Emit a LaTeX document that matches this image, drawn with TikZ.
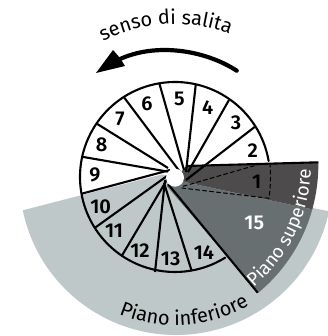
\documentclass[tikz,border=0pt]{standalone}
\usepackage{fontspec}
\setmainfont{Fira Sans}
\newfontfamily\numf{Fira Sans SemiBold}
\usetikzlibrary{decorations.text,calc}
\definecolor{pale}{HTML}{BFC8C8}
\definecolor{midg}{HTML}{676F70}
\definecolor{darkg}{HTML}{4D4B4B}
\tikzset{
  spoke/.style={draw=black,line width=2.1pt},
  num/.style={font=\fontsize{20}{20}\selectfont\numf,inner sep=0pt},
}
\newcommand{\lab}{\fontsize{20}{20}\selectfont}
\newcommand{\labs}{\fontsize{18.7}{19}\selectfont}
\begin{document}
\begin{tikzpicture}[x=1pt,y=-1pt]
\useasboundingbox (0,0) rectangle (328,336);
\coordinate (C) at (175,177);
\coordinate (G) at (176,178.5);
\coordinate (S) at (152.4,165);
% pale sector
\fill[pale] (147,178.2) -- (24,210) -- ([shift={(191.7:156.5pt)}]G) arc[start angle=191.7,end angle=347.9,radius=156.5pt] -- (175,180) -- (163,174.3) -- cycle;
% upper floor
\fill[darkg] (175,180) -- (186,166) -- (318.3,162.3) arc[start angle=0.93,end angle=-15.5,radius=165.9pt] -- cycle;
\fill[midg] (175,180) -- (312.3,209.3) arc[start angle=-15.5,end angle=-50.3,radius=165.9pt] -- (166.7,186) -- cycle;
% dashes
\draw[line width=1pt,dash pattern=on 4.5pt off 2.5pt] (183,186.3) -- (262,163.5);
\draw[line width=1pt,dash pattern=on 4.5pt off 2.5pt] (270,163) .. controls (271,175) and (270.5,187) .. (269,198.3) -- (181.7,188);
% outer arc
\draw[line width=2.1pt,line cap=round] ([shift={(9.7:95pt)}]C) arc[start angle=9.7,end angle=301.9,radius=95pt];
% spokes
\draw[spoke] (318.3,162.3) -- (186,166);
\draw[spoke] (255,126.7) -- (186,180);
\draw[spoke] (229,100) -- (188,172);
\draw[spoke] (195.7,85) -- (186,172);
\draw[spoke] (159.3,83.3) -- (184,170);
\draw[spoke] (124.3,97.7) -- (180,172);
\draw[spoke] (97.3,124) -- (168,168);
\draw[spoke] (81.7,156.7) -- (170,172);
\draw[spoke] (81.7,193.7) -- (170,170);
\draw[spoke] (95,227.7) -- (167,176);
\draw[spoke] (121.7,256) -- (168,178);
\draw[spoke] (155,272) -- (165,180);
\draw[spoke] (191.7,271) -- (164,183);
\draw[spoke] (257.7,292.7) -- (168,184);
% hub
\fill[white] (175,177.7) circle[radius=9pt];
% numbers
\node[num] (n1) at (256.7,181.7) {1};
\node[num] (n2) at (252.7,151) {2};
\node[num] (n3) at (236,122.7) {3};
\node[num] (n4) at (207.7,107.3) {4};
\node[num] (n5) at (179.3,99.3) {5};
\node[num] (n6) at (147,103.3) {6};
\node[num] (n7) at (120,118.7) {7};
\node[num] (n8) at (101.7,145) {8};
\node[num] (n9) at (95,175.3) {9};
\node[num] (n10) at (100.7,206.7) {10};
\node[num] (n11) at (114,231) {11};
\node[num] (n12) at (140,251) {12};
\node[num] (n13) at (170.7,258.3) {13};
\node[num] (n14) at (204,252.7) {14};
\node[num,text=white] (n15) at (254.3,222.7) {15};
% arrow
\draw[line width=4.2pt,line cap=round] (236.7,70.7) .. controls (205,50) and (155,42) .. (118,60);
\fill (96,73) -- (113,50) -- (120,58) -- (125,66) -- cycle;
% curved labels
\path[decorate,decoration={text along path,text align=center,text={|\lab|senso di salita}}]
  ([shift={(130:153pt)}]C) arc[start angle=130,end angle=57,radius=153pt];
\path[decorate,decoration={text along path,text align=center,text={|\lab|Piano inferiore}}]
  ([shift={(230:148pt)}]C) arc[start angle=230,end angle=318,radius=148pt];
\path[decorate,decoration={text along path,text align=center,text={|\labs\color{white}|Piano superiore}}]
  ([shift={(-52:158.5pt)}]S) arc[start angle=-52,end angle=0,radius=158.5pt];
\end{tikzpicture}
\end{document}
